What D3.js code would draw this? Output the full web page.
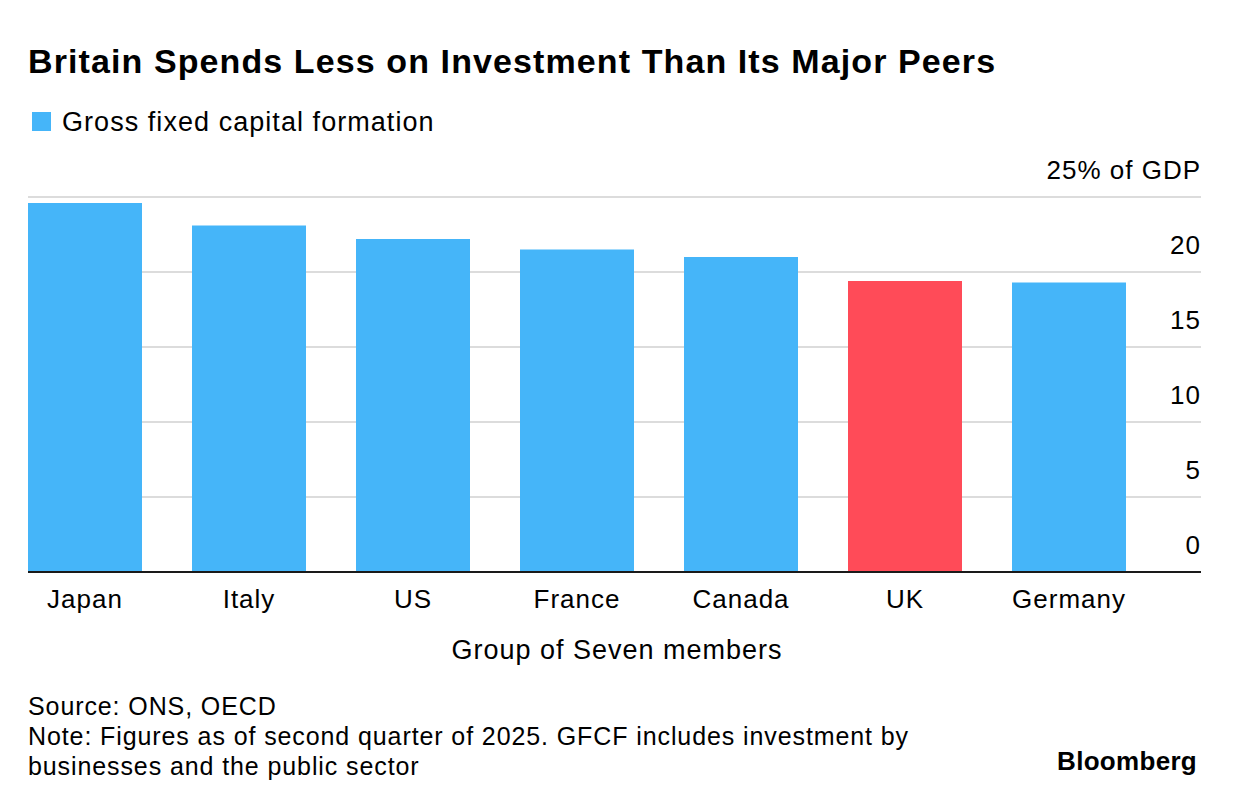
<!DOCTYPE html>
<html lang="en">
<head>
<meta charset="UTF-8" />
<title>Britain Spends Less on Investment Than Its Major Peers</title>
<script src="https://d3js.org/d3.v7.min.js"></script>
<style>
body {
    margin: 0;
    padding: 0;
    background: #fff;
    font-family: "Liberation Sans", Arial, sans-serif;
    color: #000;
}
svg { display: block; }
</style>
</head>
<body>
<svg width="1236" height="806"></svg>
<script>
const countries = ["Japan", "Italy", "US", "France", "Canada", "UK", "Germany"];
const gfcf = [24.6, 23.1, 22.2, 21.5, 21.0, 19.4, 19.3];
const yTicks = [0, 5, 10, 15, 20, 25];
const highlight = "UK";

const svg = d3.select("svg");
const font = "'Liberation Sans', Arial, sans-serif";

const x = d3.scaleBand()
    .domain(countries)
    .range([28, 1126])
    .paddingInner(50 / 164)
    .paddingOuter(0);

const y = d3.scaleLinear()
    .domain([0, 25])
    .range([572, 197]);

// title + legend
svg.append("text")
    .attr("x", 28).attr("y", 73)
    .attr("font-family", font)
    .attr("font-weight", "bold")
    .attr("font-size", 34)
    .attr("letter-spacing", 1.1)
    .text("Britain Spends Less on Investment Than Its Major Peers");

svg.append("rect")
    .attr("x", 32).attr("y", 112)
    .attr("width", 19).attr("height", 19)
    .attr("fill", "#45b5f9");

svg.append("text")
    .attr("x", 62).attr("y", 131)
    .attr("font-family", font)
    .attr("font-size", 27)
    .attr("letter-spacing", 1.05)
    .text("Gross fixed capital formation");

// gridlines
svg.append("g").selectAll("line")
    .data(yTicks.filter(d => d > 0))
    .join("line")
    .attr("x1", 28).attr("x2", 1201)
    .attr("y1", d => y(d)).attr("y2", d => y(d))
    .attr("stroke", "#dcdcdc")
    .attr("stroke-width", 2);

// y tick labels (right side, above lines)
svg.append("g").selectAll("text")
    .data(yTicks)
    .join("text")
    .attr("x", 1201)
    .attr("y", d => y(d) - 18)
    .attr("text-anchor", "end")
    .attr("font-family", font)
    .attr("font-size", 26)
    .attr("letter-spacing", 1)
    .text(d => d === 25 ? "25% of GDP" : d);

// bars
svg.append("g").selectAll("rect")
    .data(countries)
    .join("rect")
    .attr("x", d => x(d))
    .attr("width", x.bandwidth())
    .attr("y", (d, i) => y(gfcf[i]))
    .attr("height", (d, i) => y(0) - y(gfcf[i]))
    .attr("fill", d => d === highlight ? "#ff4b58" : "#45b5f9");

// baseline
svg.append("line")
    .attr("x1", 28).attr("x2", 1201)
    .attr("y1", y(0)).attr("y2", y(0))
    .attr("stroke", "#1a1a1a")
    .attr("stroke-width", 2);

// x axis labels
const xAxis = d3.axisBottom(x).tickSize(0).tickPadding(0);
const xg = svg.append("g")
    .attr("transform", `translate(0,${y(0)})`)
    .call(xAxis);
xg.select(".domain").remove();
xg.selectAll("text")
    .attr("font-family", font)
    .attr("font-size", 26)
    .attr("letter-spacing", 1)
    .attr("fill", "#000")
    .attr("dy", null)
    .attr("y", 36);

svg.append("text")
    .attr("x", 617).attr("y", 659)
    .attr("text-anchor", "middle")
    .attr("font-family", font)
    .attr("font-size", 27)
    .attr("letter-spacing", 1)
    .text("Group of Seven members");

// footer
const notes = [
    "Source: ONS, OECD",
    "Note: Figures as of second quarter of 2025. GFCF includes investment by",
    "businesses and the public sector"
];
svg.append("g").selectAll("text")
    .data(notes)
    .join("text")
    .attr("x", 28)
    .attr("y", (d, i) => 715 + i * 30)
    .attr("font-family", font)
    .attr("font-size", 25)
    .attr("letter-spacing", 0.9)
    .text(d => d);

svg.append("text")
    .attr("x", 1197).attr("y", 770)
    .attr("text-anchor", "end")
    .attr("font-family", font)
    .attr("font-weight", "bold")
    .attr("font-size", 26)
    .attr("letter-spacing", 0.3)
    .text("Bloomberg");
</script>
</body>
</html>
